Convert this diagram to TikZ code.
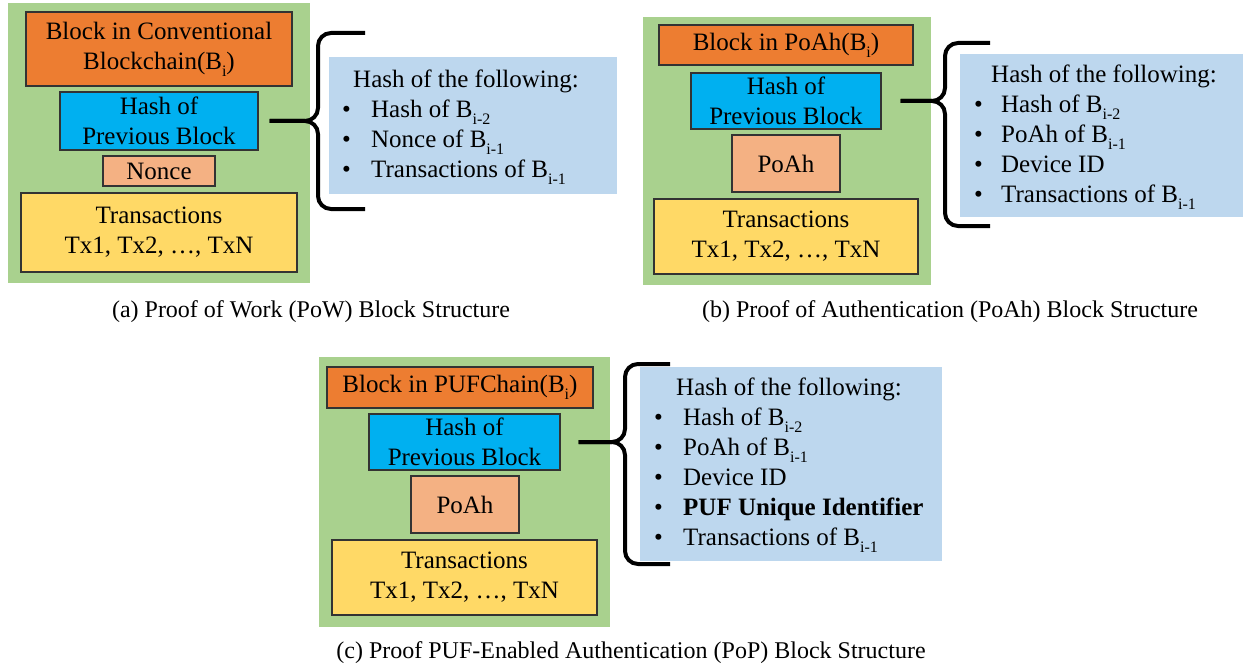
\documentclass[tikz,border=0pt]{standalone}
\usepackage{fontspec}
\setmainfont{Liberation Serif}
\usepackage{xcolor}
\usepackage{tikz}
\usetikzlibrary{positioning,calc}
\definecolor{PanelGreen}{HTML}{A9D18E}
\definecolor{TitleOrange}{HTML}{ED7D31}
\definecolor{HashCyan}{HTML}{00B0F0}
\definecolor{NonceSalmon}{HTML}{F4B183}
\definecolor{TxYellow}{HTML}{FFD966}
\definecolor{ListBlue}{HTML}{BDD7EE}
\newcommand{\blkidx}[1]{\raisebox{-0.28em}{\fontsize{16}{16}\selectfont #1}}
\tikzset{
    panelbox/.style={fill=PanelGreen, inner sep=0pt},
    blockbox/.style={draw=black!80, line width=1.2pt, inner sep=0pt, align=center, font=\fontsize{25}{30}\selectfont},
    listbox/.style={fill=ListBlue, inner sep=0pt},
    listtext/.style={anchor=base west, inner sep=0pt, font=\fontsize{25}{30}\selectfont},
    bracket/.style={draw=black, line width=4pt, rounded corners=13pt},
    captext/.style={anchor=base, inner sep=0pt, font=\fontsize{24}{28}\selectfont}
}
\begin{document}
\begin{tikzpicture}[x=1pt, y=-1pt]
    \useasboundingbox (0,0) rectangle (1243,666);

    % --- (a) PoW ---
    \node[panelbox, minimum width=302pt, minimum height=280pt] (pa) at (159,143) {};
    \node[blockbox, fill=TitleOrange, minimum width=266pt, minimum height=74pt] (oa) at (159,49)
        {Block in Conventional\\Blockchain(B\blkidx{i})};
    \node[blockbox, fill=HashCyan, minimum width=198pt, minimum height=58pt] (ha) at (159,121)
        {Hash of\\Previous Block};
    \node[blockbox, fill=NonceSalmon, minimum width=112pt, minimum height=30pt] (na) at (159,171) {Nonce};
    \node[blockbox, fill=TxYellow, minimum width=276pt, minimum height=79pt] (xa) at (159,232.5)
        {Transactions\\Tx1, Tx2, …, TxN};
    \node[listbox, minimum width=288pt, minimum height=137pt] (la) at (473,125.5) {};
    \node[listtext] (lta) at (342,88) {\begin{tabular}[t]{@{}p{29pt}@{}l@{}}
        \multicolumn{2}{@{\hspace{11pt}}l@{}}{Hash of the following:}\\
        \textbullet & Hash of B\blkidx{i-2}\\
        \textbullet & Nonce of B\blkidx{i-1}\\
        \textbullet & Transactions of B\blkidx{i-1}
    \end{tabular}};
    % brace
    \coordinate (ta) at ([xshift=11pt]ha.east);
    \coordinate (ka) at (318,121);
    \coordinate (ua) at (365,33);
    \coordinate (da) at (365,209);
    \draw[bracket] (ua) -| (ka) -- (ta);
    \draw[bracket] (ta) -- (ka) |- (da);
    \node[captext] (ca) at (311,317) {(a) Proof of Work (PoW) Block Structure};

    % --- (b) PoAh ---
    \node[panelbox, minimum width=288pt, minimum height=268pt] (pb) at (787,151) {};
    \node[blockbox, fill=TitleOrange, minimum width=254pt, minimum height=40pt] (ob) at (786,45)
        {Block in PoAh(B\blkidx{i})};
    \node[blockbox, fill=HashCyan, minimum width=190pt, minimum height=56pt] (hb) at (786,101)
        {Hash of\\Previous Block};
    \node[blockbox, fill=NonceSalmon, minimum width=108pt, minimum height=57pt] (nb) at (786,163.5) {PoAh};
    \node[blockbox, fill=TxYellow, minimum width=264pt, minimum height=75pt] (xb) at (786,236.5)
        {Transactions\\Tx1, Tx2, …, TxN};
    \node[listbox, minimum width=283pt, minimum height=163pt] (lb) at (1101.5,135.5) {};
    \node[listtext] (ltb) at (974,83) {\begin{tabular}[t]{@{}p{27pt}@{}l@{}}
        \multicolumn{2}{@{\hspace{17pt}}l@{}}{Hash of the following:}\\
        \textbullet & Hash of B\blkidx{i-2}\\
        \textbullet & PoAh of B\blkidx{i-1}\\
        \textbullet & Device ID\\
        \textbullet & Transactions of B\blkidx{i-1}
    \end{tabular}};
    % brace
    \coordinate (tb) at ([xshift=19pt]hb.east);
    \coordinate (kb) at (945,101);
    \coordinate (ub) at (990,43);
    \coordinate (db) at (990,226);
    \draw[bracket] (ub) -| (kb) -- (tb);
    \draw[bracket] (tb) -- (kb) |- (db);
    \node[captext] (cb) at (950,317) {(b) Proof of Authentication (PoAh) Block Structure};

    % --- (c) PoP ---
    \node[panelbox, minimum width=291pt, minimum height=270pt] (pc) at (464.5,492) {};
    \node[blockbox, fill=TitleOrange, minimum width=266pt, minimum height=41pt] (oc) at (460,387.5)
        {Block in PUFChain(B\blkidx{i})};
    \node[blockbox, fill=HashCyan, minimum width=191pt, minimum height=56pt] (hc) at (464.5,442)
        {Hash of\\Previous Block};
    \node[blockbox, fill=NonceSalmon, minimum width=108pt, minimum height=57pt] (nc) at (465,504.5) {PoAh};
    \node[blockbox, fill=TxYellow, minimum width=265pt, minimum height=75pt] (xc) at (464.5,577.5)
        {Transactions\\Tx1, Tx2, …, TxN};
    \node[listbox, minimum width=302pt, minimum height=194pt] (lc) at (791,464) {};
    \node[listtext] (ltc) at (654,395) {\begin{tabular}[t]{@{}p{29pt}@{}l@{}}
        \multicolumn{2}{@{\hspace{22pt}}l@{}}{Hash of the following:}\\
        \textbullet & Hash of B\blkidx{i-2}\\
        \textbullet & PoAh of B\blkidx{i-1}\\
        \textbullet & Device ID\\
        \textbullet & \textbf{PUF Unique Identifier}\\
        \textbullet & Transactions of B\blkidx{i-1}
    \end{tabular}};
    % brace
    \coordinate (tc) at ([xshift=18pt]hc.east);
    \coordinate (kc) at (625,442);
    \coordinate (uc) at (670,364);
    \coordinate (dc) at (670,564);
    \draw[bracket] (uc) -| (kc) -- (tc);
    \draw[bracket] (tc) -- (kc) |- (dc);
    \node[captext] (cc) at (631,658) {(c) Proof PUF-Enabled Authentication (PoP) Block Structure};
\end{tikzpicture}
\end{document}
